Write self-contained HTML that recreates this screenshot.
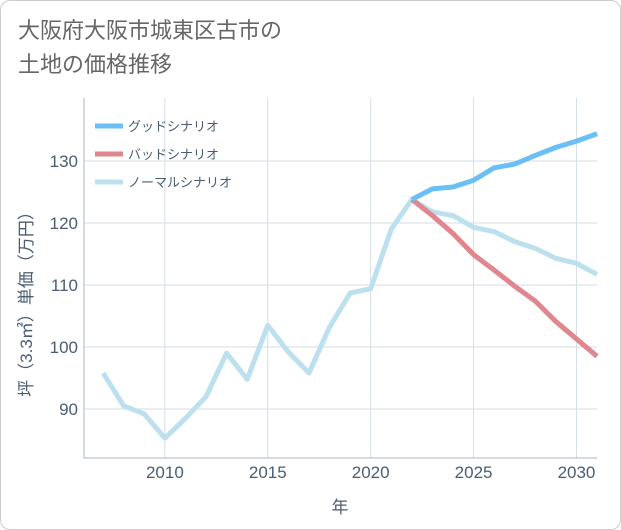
<!DOCTYPE html>
<html><head><meta charset="utf-8"><style>
body{margin:0;background:#fff;font-family:"Liberation Sans","Noto Sans CJK JP",sans-serif;}
#card{position:absolute;left:0;top:0;width:619px;height:528px;border:1px solid #ccc;border-radius:10px;background:#fff;}
#title{position:absolute;left:18px;top:14px;font-size:22px;line-height:34px;color:#666;font-family:"Liberation Sans","Noto Sans CJK JP",sans-serif;}
</style></head><body>
<div id="card"></div>
<div id="title">大阪府大阪市城東区古市の<br>土地の価格推移</div>
<svg id="chart" width="621" height="530" style="position:absolute;left:0;top:0"></svg>
<script>
const years=[2007,2008,2009,2010,2011,2012,2013,2014,2015,2016,2017,2018,2019,2020,2021,2022,2023,2024,2025,2026,2027,2028,2029,2030,2031];
const normal=[95.8,90.5,89.2,85.3,88.5,92,99,94.8,103.5,99.2,95.8,103.2,108.7,109.4,119,123.8,121.8,121.2,119.3,118.6,117,115.9,114.3,113.5,111.7];
const futureYears=[2022,2023,2024,2025,2026,2027,2028,2029,2030,2031];
const good=[123.8,125.5,125.8,126.9,128.9,129.5,130.9,132.2,133.2,134.4];
const bad=[123.8,121.2,118.3,114.9,112.4,109.8,107.4,104.1,101.3,98.5];
const xTicks=[2010,2015,2020,2025,2030];
const yTicks=[90,100,110,120,130];
const legendLabels=["グッドシナリオ","バッドシナリオ","ノーマルシナリオ"];
const colors=["#6bbff5","#e0868e","#bde0ee"];
const L=84,R=597,T=98,B=458;
const x=v=>L+(v-2006.07)*20.58;
const y=v=>409-(v-90)*6.2;
const svg=document.getElementById('chart');
const NS='http://www.w3.org/2000/svg';
const TC='#4a5d72';
function mk(t,a){const e=document.createElementNS(NS,t);for(const k in a)e.setAttribute(k,a[k]);svg.appendChild(e);return e;}
xTicks.forEach(v=>{const l=mk('line',{x1:x(v),x2:x(v),y1:T,y2:B,stroke:'#d5dde6','stroke-width':1});


const t=mk('text',{x:x(v),y:478,'text-anchor':'middle','font-size':17,fill:TC});t.textContent=v;

});
yTicks.forEach(v=>{const l=mk('line',{x1:L,x2:R,y1:y(v),y2:y(v),stroke:'#d5dde6','stroke-width':1});


const t=mk('text',{x:L-6,y:y(v)+6,'text-anchor':'end','font-size':17,fill:TC});t.textContent=v;

});
const ax=mk('path',{d:`M${L},${T}V${B}H${R}`,stroke:'#aab4c0',fill:'none'});


function line(xs,vs,c,name){const p=mk('polyline',{points:xs.map((v,i)=>x(v)+','+y(vs[i])).join(' '),fill:'none',stroke:c,'stroke-width':5,'stroke-linejoin':'round'});

}
line(years,normal,colors[2],'normal-scenario-line');
line(futureYears,bad,colors[1],'bad-scenario-line');
line(futureYears,good,colors[0],'good-scenario-line');
legendLabels.forEach((s,i)=>{const yy=126+i*28;
const l=mk('line',{x1:95,x2:123,y1:yy,y2:yy,stroke:colors[i],'stroke-width':5});


const t=mk('text',{x:128,y:yy+5,'font-size':13,fill:TC});t.textContent=s;

});
const xt=mk('text',{x:340,y:513,'text-anchor':'middle','font-size':17,fill:TC});xt.textContent='年';


const yt=mk('text',{x:0,y:0,transform:'translate(32,300) rotate(-90)','text-anchor':'middle','font-size':17,fill:TC});yt.textContent='坪（3.3㎡）単価（万円）';


</script>
</body></html>
